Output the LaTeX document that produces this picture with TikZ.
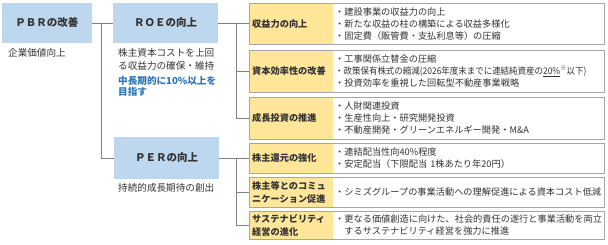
\documentclass[tikz,border=0pt]{standalone}
\usepackage{fontspec}
\usepackage{graphicx}
\setmainfont{Noto Sans CJK JP}
\definecolor{hdrblue}{HTML}{BDD7EE}
\definecolor{hdryel}{HTML}{FFE699}
\definecolor{frame}{HTML}{A6A6A6}
\definecolor{conn}{HTML}{808080}
\definecolor{txt}{HTML}{333333}
\definecolor{bluetxt}{HTML}{2E75B6}
\tikzset{
  hdr/.style={fill=hdrblue, minimum height=40pt, inner sep=0pt, font=\fontsize{10.5}{12}\selectfont\bfseries, text=txt},
  yel/.style={fill=hdryel, anchor=north west, minimum width=84pt, text width=78pt, inner xsep=3pt, inner ysep=0pt, align=left, font=\fontsize{9.2}{13}\selectfont\bfseries, text=txt},
  wht/.style={fill=white, anchor=north west, minimum width=270pt, text width=267pt, inner xsep=2pt, inner ysep=0pt, align=left, font=\fontsize{9.2}{12}\selectfont, text=txt},
  note/.style={anchor=north west, inner sep=0pt, align=left, font=\fontsize{9.6}{13}\selectfont, text=txt},
  conline/.style={draw=conn, line width=0.8pt},
}
\newcommand{\rbox}[5]{%
  % #1 name, #2 top, #3 height, #4 yellow text, #5 white text
  \fill[black!35] (250,#2+1.2) rectangle (604.2,#2+#3+1.2);
  \node[yel, minimum height=#3 pt] (y#1) at (249,#2) {#4};
  \node[wht, minimum height=#3 pt] (w#1) at (333,#2) {#5};
  \draw[frame, line width=0.7pt] (y#1.north west) rectangle (w#1.south east);
}
\begin{document}
\begin{tikzpicture}[x=1pt,y=-1pt]
\useasboundingbox (0,0) rectangle (608,244);
% headers
\node[hdr, minimum width=90pt] (pbr) at (47,23) {ＰＢＲの改善};
\node[hdr, minimum width=105pt] (roe) at (165.5,23) {ＲＯＥの向上};
\node[hdr, minimum width=105pt, minimum height=42pt] (per) at (166.5,158) {ＰＥＲの向上};
% notes
\node[note] (n1) at (8,48) {企業価値向上};
\node[note] (n2) at (118,48) {株主資本コストを上回\\る収益力の確保・維持};
\node[note, text=bluetxt, font=\fontsize{9.6}{11.5}\selectfont\bfseries] (n3) at (118,76) {中長期的に10\%以上を\\目指す};
\node[note] (n4) at (118,183) {持続的成長期待の創出};
% right boxes
\rbox{1}{3}{41}{収益力の向上}{・建設事業の収益力の向上\\・新たな収益の柱の構築による収益多様化\\・固定費（販管費・支払利息等）の圧縮}
\rbox{2}{50}{42}{資本効率性の改善}{・工事関係立替金の圧縮\\\scalebox{0.92}[1]{・政策保有株式の縮減(2026年度末までに連結純資産の\underline{20\%}\textsuperscript{※}以下)}\\・投資効率を重視した回転型不動産事業戦略}
\rbox{3}{97}{42}{成長投資の推進}{・人財関連投資\\・生産性向上・研究開発投資\\・不動産開発・グリーンエネルギー開発・M\&A}
\rbox{4}{143}{30}{株主還元の強化}{・連結配当性向40\%程度\\・安定配当（下限配当 1株あたり年20円）}
\rbox{5}{177}{30}{株主等とのコミュ\\ニケーション促進}{・シミズグループの事業活動への理解促進による資本コスト低減}
\rbox{6}{211}{28}{サステナビリティ\\経営の進化}{・更なる価値創造に向けた、社会的責任の遂行と事業活動を両立\\\phantom{・}するサステナビリティ経営を強力に推進}
% connectors
\coordinate (j1) at (101,23);
\coordinate (j2) at (236,23);
\coordinate (j3) at (236,158);
\draw[conline] (pbr.east) -- (roe.west);
\draw[conline] (j1) |- (per.west);
\draw[conline] (roe.east) -- (roe.east -| y1.west);
\draw[conline] (j2) |- (y2.west);
\draw[conline] (j2) |- (y3.west);
\draw[conline] (per.east) -- (per.east -| y4.west);
\draw[conline] (j3) |- (y5.west);
\draw[conline] (j3) |- (y6.west);
\end{tikzpicture}
\end{document}
